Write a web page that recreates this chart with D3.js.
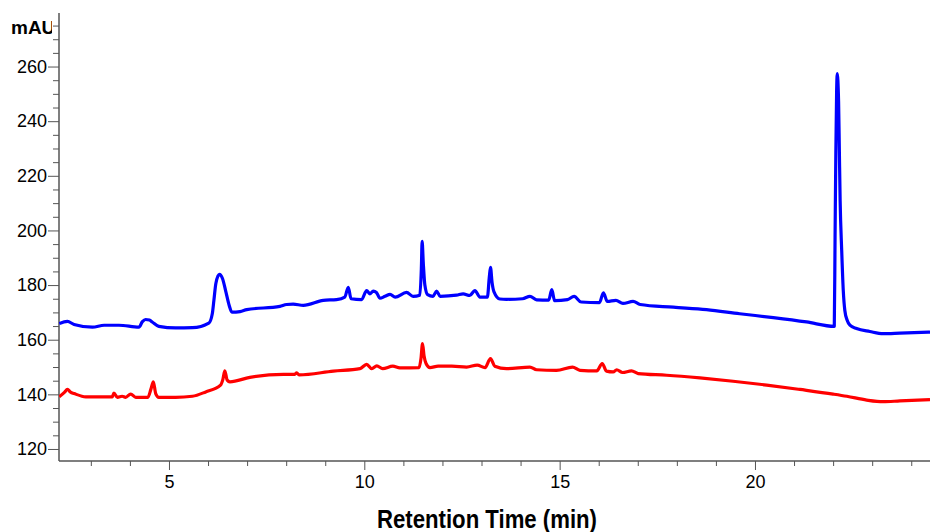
<!DOCTYPE html>
<html>
<head>
<meta charset="utf-8">
<script src="https://cdn.jsdelivr.net/npm/d3@7"></script>
<style>
  body { margin: 0; background: #fff; }
  svg { display: block; }
</style>
</head>
<body>
<svg id="chart" width="930" height="532"></svg>
<script>
// trace data: [retention time (min), absorbance (mAU)]
var blueTrace = [
  [2.19,165.9],[2.40,166.7],[2.57,165.6],[3.04,164.6],[3.34,165.3],[3.72,165.3],[4.23,164.6],
  [4.32,166.6],[4.40,167.4],[4.50,167.2],[4.57,166.5],[4.74,164.9],[5.17,164.3],[5.60,164.4],
  [6.02,166.1],[6.11,169.6],[6.15,174.4],[6.20,180.6],[6.29,183.9],[6.37,182.4],[6.46,177.3],
  [6.54,172.6],[6.61,170.1],[6.82,170.3],[6.99,171.0],[7.84,172.2],[8.01,172.9],[8.18,173.0],
  [8.44,172.6],[8.95,174.4],[9.29,174.7],[9.50,175.6],[9.59,179.2],[9.66,175.0],[9.93,174.7],
  [10.06,178.0],[10.14,176.8],[10.23,177.8],[10.31,177.3],[10.40,175.2],[10.53,175.9],
  [10.66,176.6],[10.79,175.6],[11.08,177.3],[11.25,175.9],[11.42,176.3],[11.46,186.0],
  [11.48,196.0],[11.51,188.0],[11.55,180.0],[11.62,176.5],[11.76,175.9],[11.85,177.8],
  [11.94,175.9],[12.36,176.3],[12.53,176.8],[12.70,176.2],[12.83,178.0],[12.96,175.6],
  [13.15,175.6],[13.20,183.0],[13.23,186.5],[13.27,181.0],[13.32,177.5],[13.47,174.9],
  [13.64,174.8],[14.05,175.0],[14.24,175.9],[14.41,174.6],[14.72,174.5],[14.80,178.3],
  [14.87,174.3],[15.20,174.7],[15.37,175.9],[15.55,173.8],[16.02,173.6],[16.12,177.2],
  [16.22,174.0],[16.44,174.4],[16.62,173.3],[16.88,174.0],[17.06,172.9],[17.91,171.9],
  [18.76,171.0],[19.61,169.5],[20.47,168.1],[21.32,166.5],[22.03,164.9],[22.05,197.5],
  [22.07,229.0],[22.09,251.0],[22.105,257.4],[22.14,247.4],[22.16,229.0],[22.18,210.9],
  [22.22,192.6],[22.26,178.0],[22.30,170.7],[22.36,167.1],[22.43,165.3],[22.60,164.1],
  [22.94,163.0],[23.28,162.2],[23.71,162.4],[24.48,162.8]
];

var redTrace = [
  [2.19,139.1],[2.33,140.8],[2.40,141.8],[2.48,140.8],[2.57,140.3],[2.87,139.1],[3.55,139.1],
  [3.59,140.5],[3.68,138.9],[3.80,139.3],[3.89,138.9],[4.02,140.1],[4.15,138.9],[4.46,138.9],
  [4.54,142.0],[4.60,144.6],[4.66,140.3],[4.74,138.9],[5.17,138.9],[5.60,139.3],[5.94,140.9],
  [6.32,143.4],[6.38,145.5],[6.43,148.6],[6.49,145.2],[6.56,144.6],[7.07,146.2],[7.93,147.3],
  [8.22,147.3],[8.27,147.9],[8.33,147.1],[9.21,148.5],[9.89,149.4],[10.06,151.0],[10.19,149.4],
  [10.32,150.4],[10.47,149.4],[10.73,150.3],[10.91,149.7],[11.40,149.8],[11.45,153.0],
  [11.49,158.6],[11.53,154.0],[11.58,151.3],[11.68,149.8],[11.89,150.3],[12.24,150.3],
  [12.62,150.0],[12.89,150.7],[13.09,149.8],[13.23,153.1],[13.34,150.3],[13.64,149.4],
  [14.24,150.0],[14.41,149.0],[14.92,148.8],[15.33,150.0],[15.52,148.8],[15.95,148.6],
  [16.09,151.3],[16.20,148.5],[16.37,148.2],[16.46,149.0],[16.61,148.0],[16.84,148.6],
  [17.01,147.6],[17.74,147.0],[18.59,146.0],[19.44,144.8],[20.30,143.4],[21.15,141.8],
  [22.00,140.1],[22.35,139.3],[22.86,137.9],[23.28,137.3],[23.71,137.6],[24.48,138.1]
];

var xTickLabels = [5, 10, 15, 20];
var yTickLabels = [120, 140, 160, 180, 200, 220, 240, 260];
var xDomain = [2.185, 24.48];
var yDomain = [115.6, 279.6];

var svg = d3.select("#chart");
// plot box (window.top is read-only, so no plain "top" here)
var plotLeft = 59, plotRight = 930, plotTop = 13, plotBottom = 461;

var x = d3.scaleLinear().domain(xDomain).range([plotLeft, plotRight]);
var y = d3.scaleLinear().domain(yDomain).range([plotBottom, plotTop]);

var axisColor = "#555";
var tickFont = "Liberation Sans, Arial, sans-serif";

// minor ticks first, then majors with labels
var xMinor = d3.range(3, 25, 1).filter(function(d) { return d % 5 !== 0; });
var yMinor = d3.range(120, 280, 5).filter(function(d) { return d % 20 !== 0; });

var xAxisG = svg.append("g").attr("transform", "translate(0," + plotBottom + ")");
xAxisG.call(d3.axisBottom(x).tickValues(xMinor).tickSize(5).tickFormat(""));
xAxisG.append("g").call(d3.axisBottom(x).tickValues(xTickLabels).tickSize(9).tickPadding(5).tickFormat(d3.format("d")));
xAxisG.selectAll(".domain").remove();
xAxisG.selectAll("line").attr("stroke", axisColor);
xAxisG.selectAll("text").attr("font-family", tickFont).attr("font-size", 18).attr("fill", "#000");

var yAxisG = svg.append("g").attr("transform", "translate(" + plotLeft + ",0)");
yAxisG.call(d3.axisLeft(y).tickValues(yMinor).tickSize(6).tickFormat(""));
yAxisG.append("g").call(d3.axisLeft(y).tickValues(yTickLabels).tickSize(11).tickPadding(1).tickFormat(d3.format("d")));
yAxisG.selectAll(".domain").remove();
yAxisG.selectAll("line").attr("stroke", axisColor);
yAxisG.selectAll("text").attr("font-family", tickFont).attr("font-size", 18).attr("fill", "#000");

svg.append("line").attr("x1", plotLeft).attr("x2", plotRight).attr("y1", plotBottom).attr("y2", plotBottom)
  .attr("stroke", axisColor).attr("stroke-width", 1.5);
svg.append("line").attr("x1", plotLeft).attr("x2", plotLeft).attr("y1", plotTop).attr("y2", plotBottom)
  .attr("stroke", axisColor).attr("stroke-width", 1.5);

// traces
svg.append("clipPath").attr("id", "plotclip").append("rect")
  .attr("x", plotLeft).attr("y", plotTop).attr("width", plotRight - plotLeft).attr("height", plotBottom - plotTop);

var line = d3.line()
  .x(function(d) { return x(d[0]); })
  .y(function(d) { return y(d[1]); })
  .curve(d3.curveMonotoneX);

var plot = svg.append("g").attr("clip-path", "url(#plotclip)");
plot.append("path").datum(redTrace).attr("d", line)
  .attr("fill", "none").attr("stroke", "#ff0000").attr("stroke-width", 3.2).attr("stroke-linejoin", "round");
plot.append("path").datum(blueTrace).attr("d", line)
  .attr("fill", "none").attr("stroke", "#0000ff").attr("stroke-width", 3.2).attr("stroke-linejoin", "round");

// labels
svg.append("clipPath").attr("id", "unitclip").append("rect")
  .attr("x", 0).attr("y", 0).attr("width", 52).attr("height", 60);
svg.append("text")
  .attr("x", 11).attr("y", 34)
  .attr("clip-path", "url(#unitclip)")
  .style("font-family", tickFont)
  .style("font-weight", "bold").style("font-size", "19px")
  .text("mAU");

svg.append("text")
  .attr("x", 487).attr("y", 528)
  .attr("text-anchor", "middle")
  .attr("textLength", 220).attr("lengthAdjust", "spacingAndGlyphs")
  .style("font-family", "Liberation Sans Narrow, Arial Narrow, Liberation Sans, sans-serif")
  .style("font-weight", "bold").style("font-size", "25px")
  .text("Retention Time (min)");
</script>
</body>
</html>
